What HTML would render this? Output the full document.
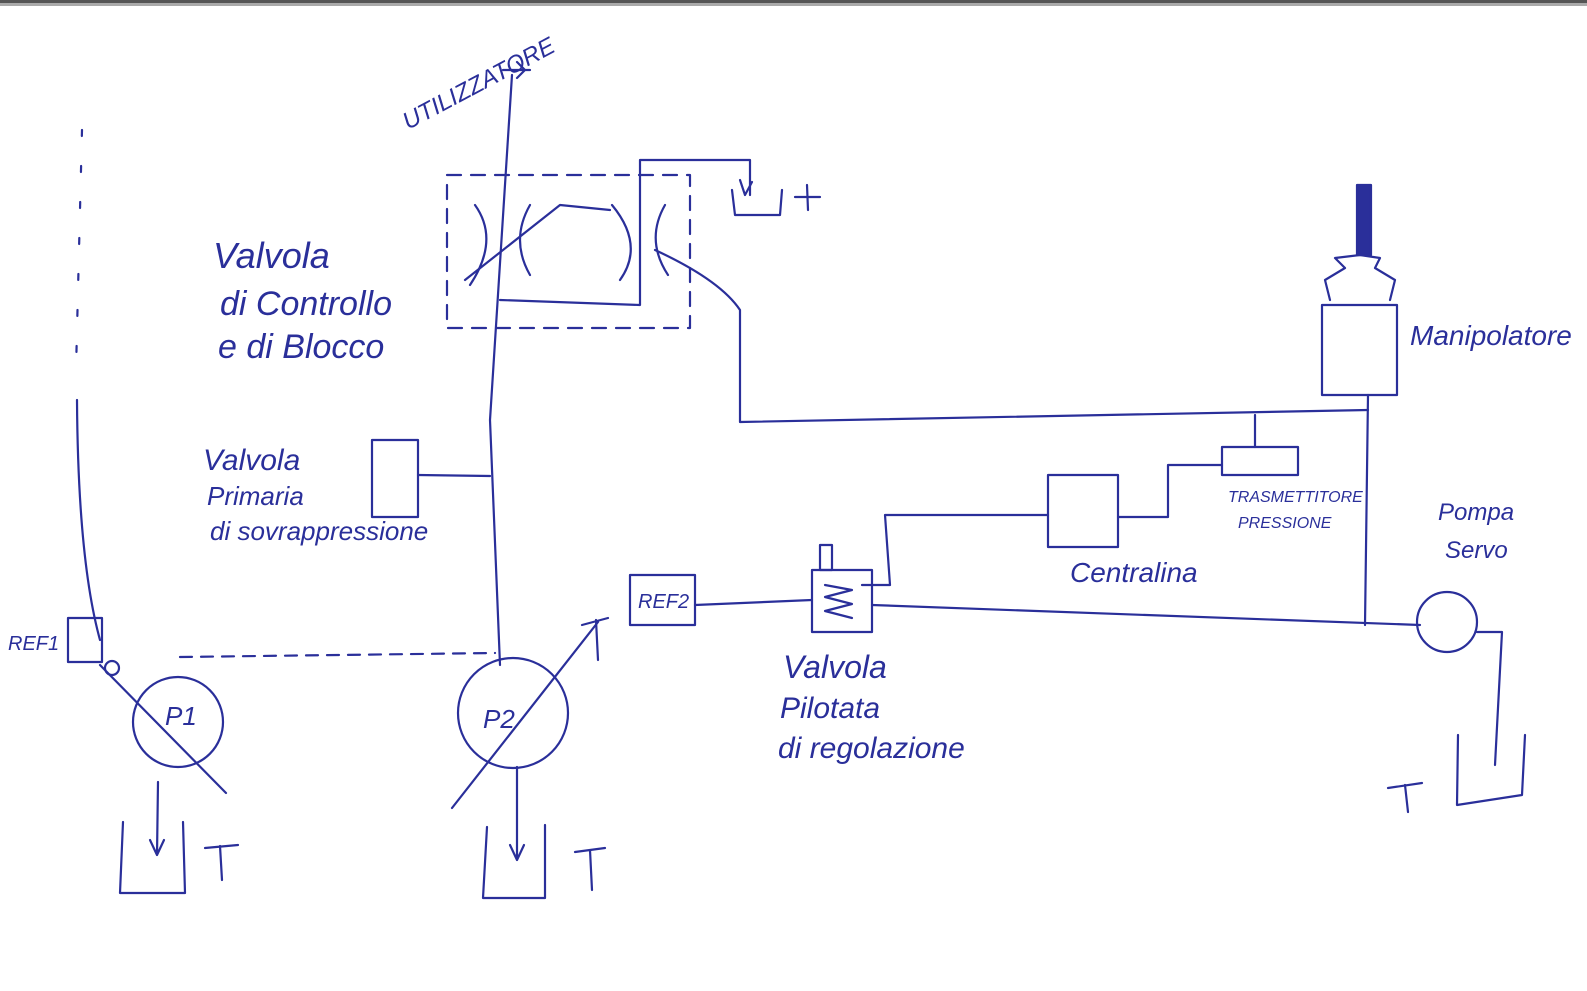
<!DOCTYPE html>
<html><head><meta charset="utf-8"><style>
html,body{margin:0;padding:0;background:#fff;}
svg{display:block;}
text{font-family:"Liberation Sans",sans-serif;font-style:italic;fill:#2a2f9a;}
</style></head><body>
<svg width="1587" height="991" viewBox="0 0 1587 991" xmlns="http://www.w3.org/2000/svg">
<rect x="0" y="0" width="1587" height="3" fill="#555"/>
<rect x="0" y="3" width="1587" height="3" fill="#aaa"/>
<g fill="none" stroke="#2a2f9a" stroke-width="2.2" stroke-linecap="round" stroke-linejoin="round">
<!-- left dashed -->
<path d="M82 130 L76 370" stroke-dasharray="6 30"/>
<path d="M77 400 Q78 560 100 640"/>
<!-- REF1 -->
<rect x="68" y="618" width="34" height="44"/>
<circle cx="112" cy="668" r="7"/>
<!-- P1 -->
<circle cx="178" cy="722" r="45"/>
<path d="M100 665 L226 793"/>
<path d="M180 657 L495 653" stroke-dasharray="12 9"/>
<path d="M158 782 L157 855 M150 840 L157 855 L164 840"/>
<path d="M123 822 L120 893 L185 893 L183 822"/>
<!-- P2 -->
<circle cx="513" cy="713" r="55"/>
<path d="M452 808 L598 622"/>
<path d="M512 75 L490 420 L500 665"/>
<path d="M503 70 L530 70 M517 62 L525 70 L517 78"/>
<path d="M517 767 L517 860 M510 845 L517 860 L524 845"/>
<path d="M487 827 L483 898 L545 898 L545 825"/>
<!-- control valve -->
<rect x="447" y="175" width="243" height="153" stroke-dasharray="14 10"/>
<path d="M475 205 Q500 240 470 285 M530 205 Q510 240 530 275 M612 205 Q645 245 620 280 M665 205 Q645 240 668 275"/>
<path d="M465 280 L560 205 L610 210"/>
<path d="M500 300 L640 305 L640 160 L750 160 L750 195"/>
<path d="M740 180 L745 195 L752 182"/>
<path d="M732 190 L735 215 L780 215 L782 190"/>
<path d="M655 250 Q720 280 740 310 L740 422 L1368 410"/>
<!-- manipolatore -->
<rect x="1322" y="305" width="75" height="90"/>
<rect x="1357" y="185" width="14" height="70" fill="#2a2f9a"/>
<path d="M1330 300 L1325 280 L1345 268 L1335 258 L1360 255 L1380 258 L1375 268 L1395 280 L1390 300"/>
<path d="M1368 395 L1365 625"/>
<!-- trasmettitore -->
<rect x="1222" y="447" width="76" height="28"/>
<path d="M1255 415 L1255 447"/>
<!-- centralina -->
<rect x="1048" y="475" width="70" height="72"/>
<path d="M1118 517 L1168 517 L1168 465 L1222 465"/>
<path d="M1048 515 L885 515 L890 585 L862 585"/>
<!-- valvola pilotata -->
<rect x="812" y="570" width="60" height="62"/>
<rect x="820" y="545" width="12" height="25"/>
<path d="M825 585 L852 590 L825 597 L852 604 L825 611 L852 618"/>
<!-- REF2 -->
<rect x="630" y="575" width="65" height="50"/>
<path d="M695 605 L812 600"/>
<path d="M872 605 L1420 625"/>
<!-- pompa servo -->
<circle cx="1447" cy="622" r="30"/>
<path d="M1477 632 L1502 632 L1495 765"/>
<path d="M1458 735 L1457 805 L1522 795 L1525 735"/>
<!-- valvola primaria -->
<rect x="372" y="440" width="46" height="77"/>
<path d="M418 475 L490 476"/>
<!-- T symbols -->
<path d="M205 848 L238 845 M220 846 L222 880"/>
<path d="M575 852 L605 848 M590 850 L592 890"/>
<path d="M1388 788 L1422 783 M1405 785 L1408 812"/>
<path d="M582 625 L608 618 M596 620 L598 660"/>
<path d="M795 197 L820 197 M807 185 L808 210"/>
</g>
<text x="165" y="725" font-size="26">P1</text>
<text x="483" y="728" font-size="26">P2</text>
<text x="8" y="650" font-size="20">REF1</text>
<text x="638" y="608" font-size="20">REF2</text>
<text x="408" y="130" font-size="24" transform="rotate(-28 408 130)">UTILIZZATORE</text>
<text x="213" y="268" font-size="36">Valvola</text>
<text x="220" y="315" font-size="34">di Controllo</text>
<text x="218" y="358" font-size="34">e di Blocco</text>
<text x="203" y="470" font-size="30">Valvola</text>
<text x="207" y="505" font-size="26">Primaria</text>
<text x="210" y="540" font-size="26">di sovrappressione</text>
<text x="1410" y="345" font-size="28">Manipolatore</text>
<text x="1228" y="502" font-size="16">TRASMETTITORE</text>
<text x="1238" y="528" font-size="16">PRESSIONE</text>
<text x="1070" y="582" font-size="28">Centralina</text>
<text x="1438" y="520" font-size="24">Pompa</text>
<text x="1445" y="558" font-size="24">Servo</text>
<text x="783" y="678" font-size="32">Valvola</text>
<text x="780" y="718" font-size="30">Pilotata</text>
<text x="778" y="758" font-size="30">di regolazione</text>
</svg>
</body></html>
